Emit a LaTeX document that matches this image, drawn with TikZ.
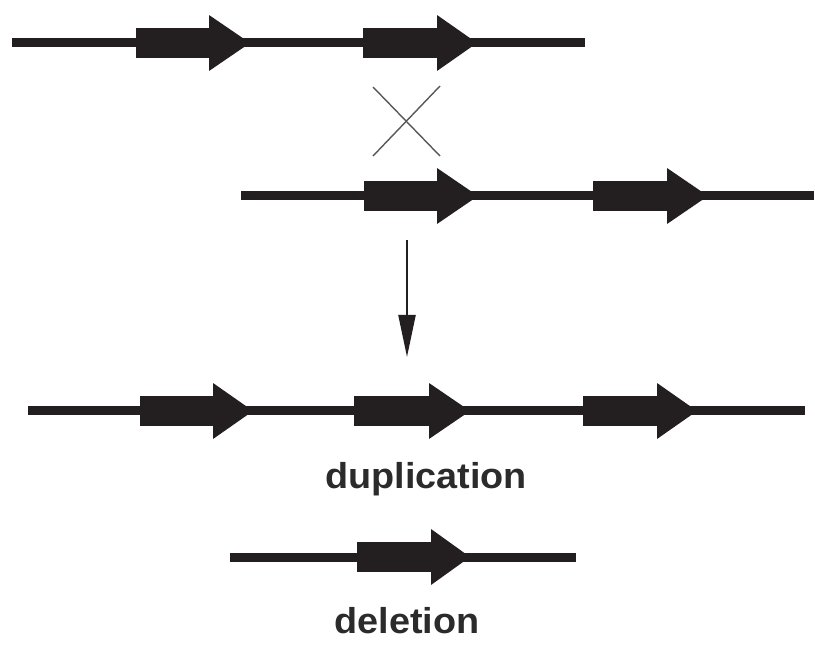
\documentclass[tikz,border=0pt]{standalone}
\usepackage{fontspec}
\setmainfont{Liberation Sans}
\newfontfamily\capfont[FakeStretch=1.05]{Liberation Sans}
\usetikzlibrary{arrows.meta}
\definecolor{ink}{HTML}{231F20}
\definecolor{labelink}{HTML}{2B2B2B}
\tikzset{
  strand/.style={draw=ink, line width=9pt},
  crossline/.style={draw=ink!75, line width=1.4pt},
  steparrow/.style={draw=ink, line width=2.2pt, -{Triangle[length=42pt, width=17pt]}},
  caption/.style={text=labelink, font=\capfont\fontsize{36}{40}\selectfont\bfseries, anchor=base, inner sep=0pt},
}
% gene: #1 = box start, #2 = head start, #3 = tip, #4 = strand height
\newcommand{\genearrow}[4]{%
  \fill[ink] (#1,#4-15) rectangle (#2+0.5,#4+15);
  \fill[ink] (#2,#4-28) -- (#3,#4) -- (#2,#4+28) -- cycle;
}
\begin{document}
\begin{tikzpicture}[x=1pt, y=-1pt]
\useasboundingbox (0,0) rectangle (815,647);

% upper chromatid
\draw[strand] (12,43) -- (585,43);
\genearrow{136}{209}{250}{43}
\genearrow{363}{437}{477}{43}

% crossover mark
\coordinate (xa) at (373,87);
\coordinate (xb) at (440,156);
\coordinate (xc) at (440,86);
\coordinate (xd) at (373,156);
\draw[crossline] (xa) -- (xb);
\draw[crossline] (xc) -- (xd);

% lower chromatid, misaligned
\draw[strand] (241,196) -- (814,196);
\genearrow{364}{437}{478}{196}
\genearrow{593}{667}{708}{196}

% outcome arrow
\coordinate (from) at (407,240);
\coordinate (to) at (407,357);
\draw[steparrow] (from) -- (to);

% duplication product
\draw[strand] (28,411) -- (805,411);
\genearrow{140}{213}{253}{411}
\genearrow{354}{429}{470}{411}
\genearrow{583}{657}{697}{411}
\node[caption] (dup) at (426,488) {duplication};

% deletion product
\draw[strand] (230,557) -- (576,557);
\genearrow{357}{431}{470}{557}
\node[caption] (del) at (407,633) {deletion};
\end{tikzpicture}
\end{document}
